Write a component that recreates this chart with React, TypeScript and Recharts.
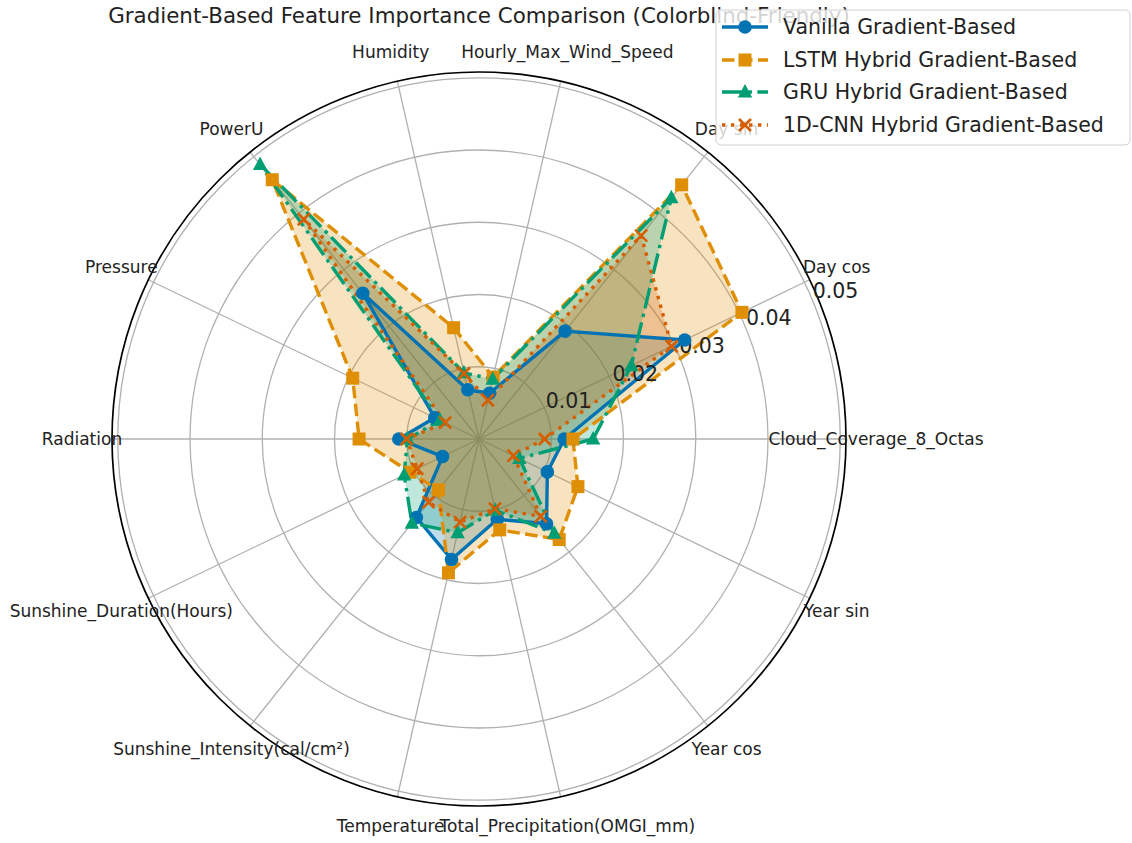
import React from "react";
import {
  RadarChart,
  Radar,
  PolarGrid,
  PolarAngleAxis,
  PolarRadiusAxis,
} from "recharts";

// feature order follows the polar axis, counter-clockwise from 3 o'clock
const features = [
  "Cloud_Coverage_8_Octas",
  "Day cos",
  "Day sin",
  "Hourly_Max_Wind_Speed",
  "Humidity",
  "PowerU",
  "Pressure",
  "Radiation",
  "Sunshine_Duration(Hours)",
  "Sunshine_Intensity(cal/cm²)",
  "Temperature",
  "Total_Precipitation(OMGI_mm)",
  "Year cos",
  "Year sin",
];

const vanilla = [0.0118, 0.0316, 0.0191, 0.0065, 0.007, 0.0258, 0.0068, 0.0111, 0.0056, 0.0139, 0.0171, 0.0114, 0.015, 0.0105];
const lstm = [0.013, 0.0404, 0.045, 0.0088, 0.0158, 0.0459, 0.0194, 0.0166, 0.0106, 0.009, 0.019, 0.0129, 0.0178, 0.0152];
const gru = [0.0158, 0.0234, 0.0427, 0.0085, 0.0094, 0.0486, 0.006, 0.0099, 0.0115, 0.0149, 0.0133, 0.0101, 0.0167, 0.0062];
const cnn = [0.0091, 0.0296, 0.036, 0.0055, 0.0093, 0.0389, 0.0052, 0.01, 0.0095, 0.0112, 0.0118, 0.0099, 0.0137, 0.0053];

const radialTicks = [0.01, 0.02, 0.03, 0.04, 0.05];
const R_MAX = 0.0508;

const W = 1132;
const H = 843;
const CX = 479;
const CY = 439;
const OUTER = 367;
const FONT = "'DejaVu Sans', Verdana, sans-serif";

type Shape = "circle" | "square" | "triangle" | "x";

const SERIES: {
  key: string;
  name: string;
  values: number[];
  color: string;
  dash?: string;
  shape: Shape;
}[] = [
  { key: "vanilla", name: "Vanilla Gradient-Based", values: vanilla, color: "#0173B2", shape: "circle" },
  { key: "lstm", name: "LSTM Hybrid Gradient-Based", values: lstm, color: "#DE8F05", dash: "12.5 5.5", shape: "square" },
  { key: "gru", name: "GRU Hybrid Gradient-Based", values: gru, color: "#029E73", dash: "21 5.5 3.4 5.5", shape: "triangle" },
  { key: "cnn", name: "1D-CNN Hybrid Gradient-Based", values: cnn, color: "#D55E00", dash: "3.4 5.6", shape: "x" },
];

const rows = features.map((feature, i) => {
  const row: Record<string, string | number> = { feature };
  SERIES.forEach((s) => (row[s.key] = s.values[i]));
  return row;
});
// recharts only lines ticks and points up when going clockwise, so walk the
// features clockwise from 3 o'clock: that gives the same counter-clockwise layout
const data = [rows[0], ...rows.slice(1).reverse()];

function Marker({ shape, cx, cy, color }: { shape: Shape; cx: number; cy: number; color: string }) {
  if (cx == null || cy == null) return null;
  switch (shape) {
    case "circle":
      return <circle cx={cx} cy={cy} r={6.8} fill={color} />;
    case "square":
      return <rect x={cx - 6.5} y={cy - 6.5} width={13} height={13} fill={color} />;
    case "triangle":
      return (
        <polygon
          points={`${cx},${cy - 8} ${cx - 7.2},${cy + 5.5} ${cx + 7.2},${cy + 5.5}`}
          fill={color}
        />
      );
    default:
      return (
        <g stroke={color} strokeWidth={2.6}>
          <line x1={cx - 6} y1={cy - 6} x2={cx + 6} y2={cy + 6} />
          <line x1={cx - 6} y1={cy + 6} x2={cx + 6} y2={cy - 6} />
        </g>
      );
  }
}

function AngleTick(props: any) {
  const { x, y, payload } = props;
  return (
    <text
      x={x}
      y={y}
      textAnchor="middle"
      dominantBaseline="central"
      fontSize={17}
      fontFamily={FONT}
      fill="#222"
    >
      {payload.value}
    </text>
  );
}

function RadiusTick(props: any) {
  const { x, y, payload } = props;
  return (
    <text x={x} y={y - 3} textAnchor="start" fontSize={20.5} fontFamily={FONT} fill="#222">
      {payload.value}
    </text>
  );
}

function Legend() {
  const ys = [17, 50, 82, 115];
  return (
    <g transform="translate(716,10)">
      <rect x={0} y={0} width={414} height={135} rx={5} fill="#fff" fillOpacity={0.8} stroke="#d0d0d0" />
      {SERIES.map((s, i) => (
        <g key={s.key}>
          <line
            x1={6}
            x2={52}
            y1={ys[i]}
            y2={ys[i]}
            stroke={s.color}
            strokeWidth={3.4}
            strokeDasharray={s.dash}
          />
          <Marker shape={s.shape} cx={29} cy={ys[i]} color={s.color} />
          <text
            x={67}
            y={ys[i]}
            dominantBaseline="central"
            fontSize={20.5}
            fontFamily={FONT}
            fill="#222"
          >
            {s.name}
          </text>
        </g>
      ))}
    </g>
  );
}

export default function App() {
  return (
    <div style={{ position: "absolute", left: 0, top: 0, width: W, height: H, background: "#fff" }}>
      <RadarChart
        width={W}
        height={H}
        data={data}
        cx={CX}
        cy={CY}
        outerRadius={OUTER}
        startAngle={0}
        endAngle={-360}
        margin={{ top: 0, right: 0, bottom: 0, left: 0 }}
      >
        {/* fills sit under the grid, lines and markers on top of it */}
        {SERIES.map((s) => (
          <Radar
            key={`fill-${s.key}`}
            dataKey={s.key}
            stroke="none"
            fill={s.color}
            fillOpacity={0.25}
            isAnimationActive={false}
          />
        ))}
        <PolarGrid gridType="circle" stroke="#b0b0b0" strokeWidth={1.3} />
        <PolarAngleAxis
          dataKey="feature"
          tick={<AngleTick />}
          tickLine={false}
          tickSize={30}
          axisLineType="circle"
          axisLine={{ stroke: "#000", strokeWidth: 1.7 }}
        />
        {SERIES.map((s) => (
          <Radar
            key={`line-${s.key}`}
            name={s.name}
            dataKey={s.key}
            stroke={s.color}
            strokeWidth={3.4}
            strokeDasharray={s.dash}
            strokeLinejoin="round"
            fill="none"
            dot={(p: any) => (
              <Marker key={`${s.key}-${p.index}`} shape={s.shape} cx={p.cx} cy={p.cy} color={s.color} />
            )}
            isAnimationActive={false}
          />
        ))}
        <PolarRadiusAxis
          angle={22.5}
          domain={[0, R_MAX]}
          ticks={radialTicks}
          axisLine={false}
          tickLine={false}
          tick={<RadiusTick />}
        />
      </RadarChart>
      <svg
        width={W}
        height={H}
        style={{ position: "absolute", left: 0, top: 0, pointerEvents: "none" }}
      >
        <text x={CX} y={23} textAnchor="middle" fontSize={21.4} fontFamily={FONT} fill="#222">
          Gradient-Based Feature Importance Comparison (Colorblind-Friendly)
        </text>
        <Legend />
      </svg>
    </div>
  );
}
